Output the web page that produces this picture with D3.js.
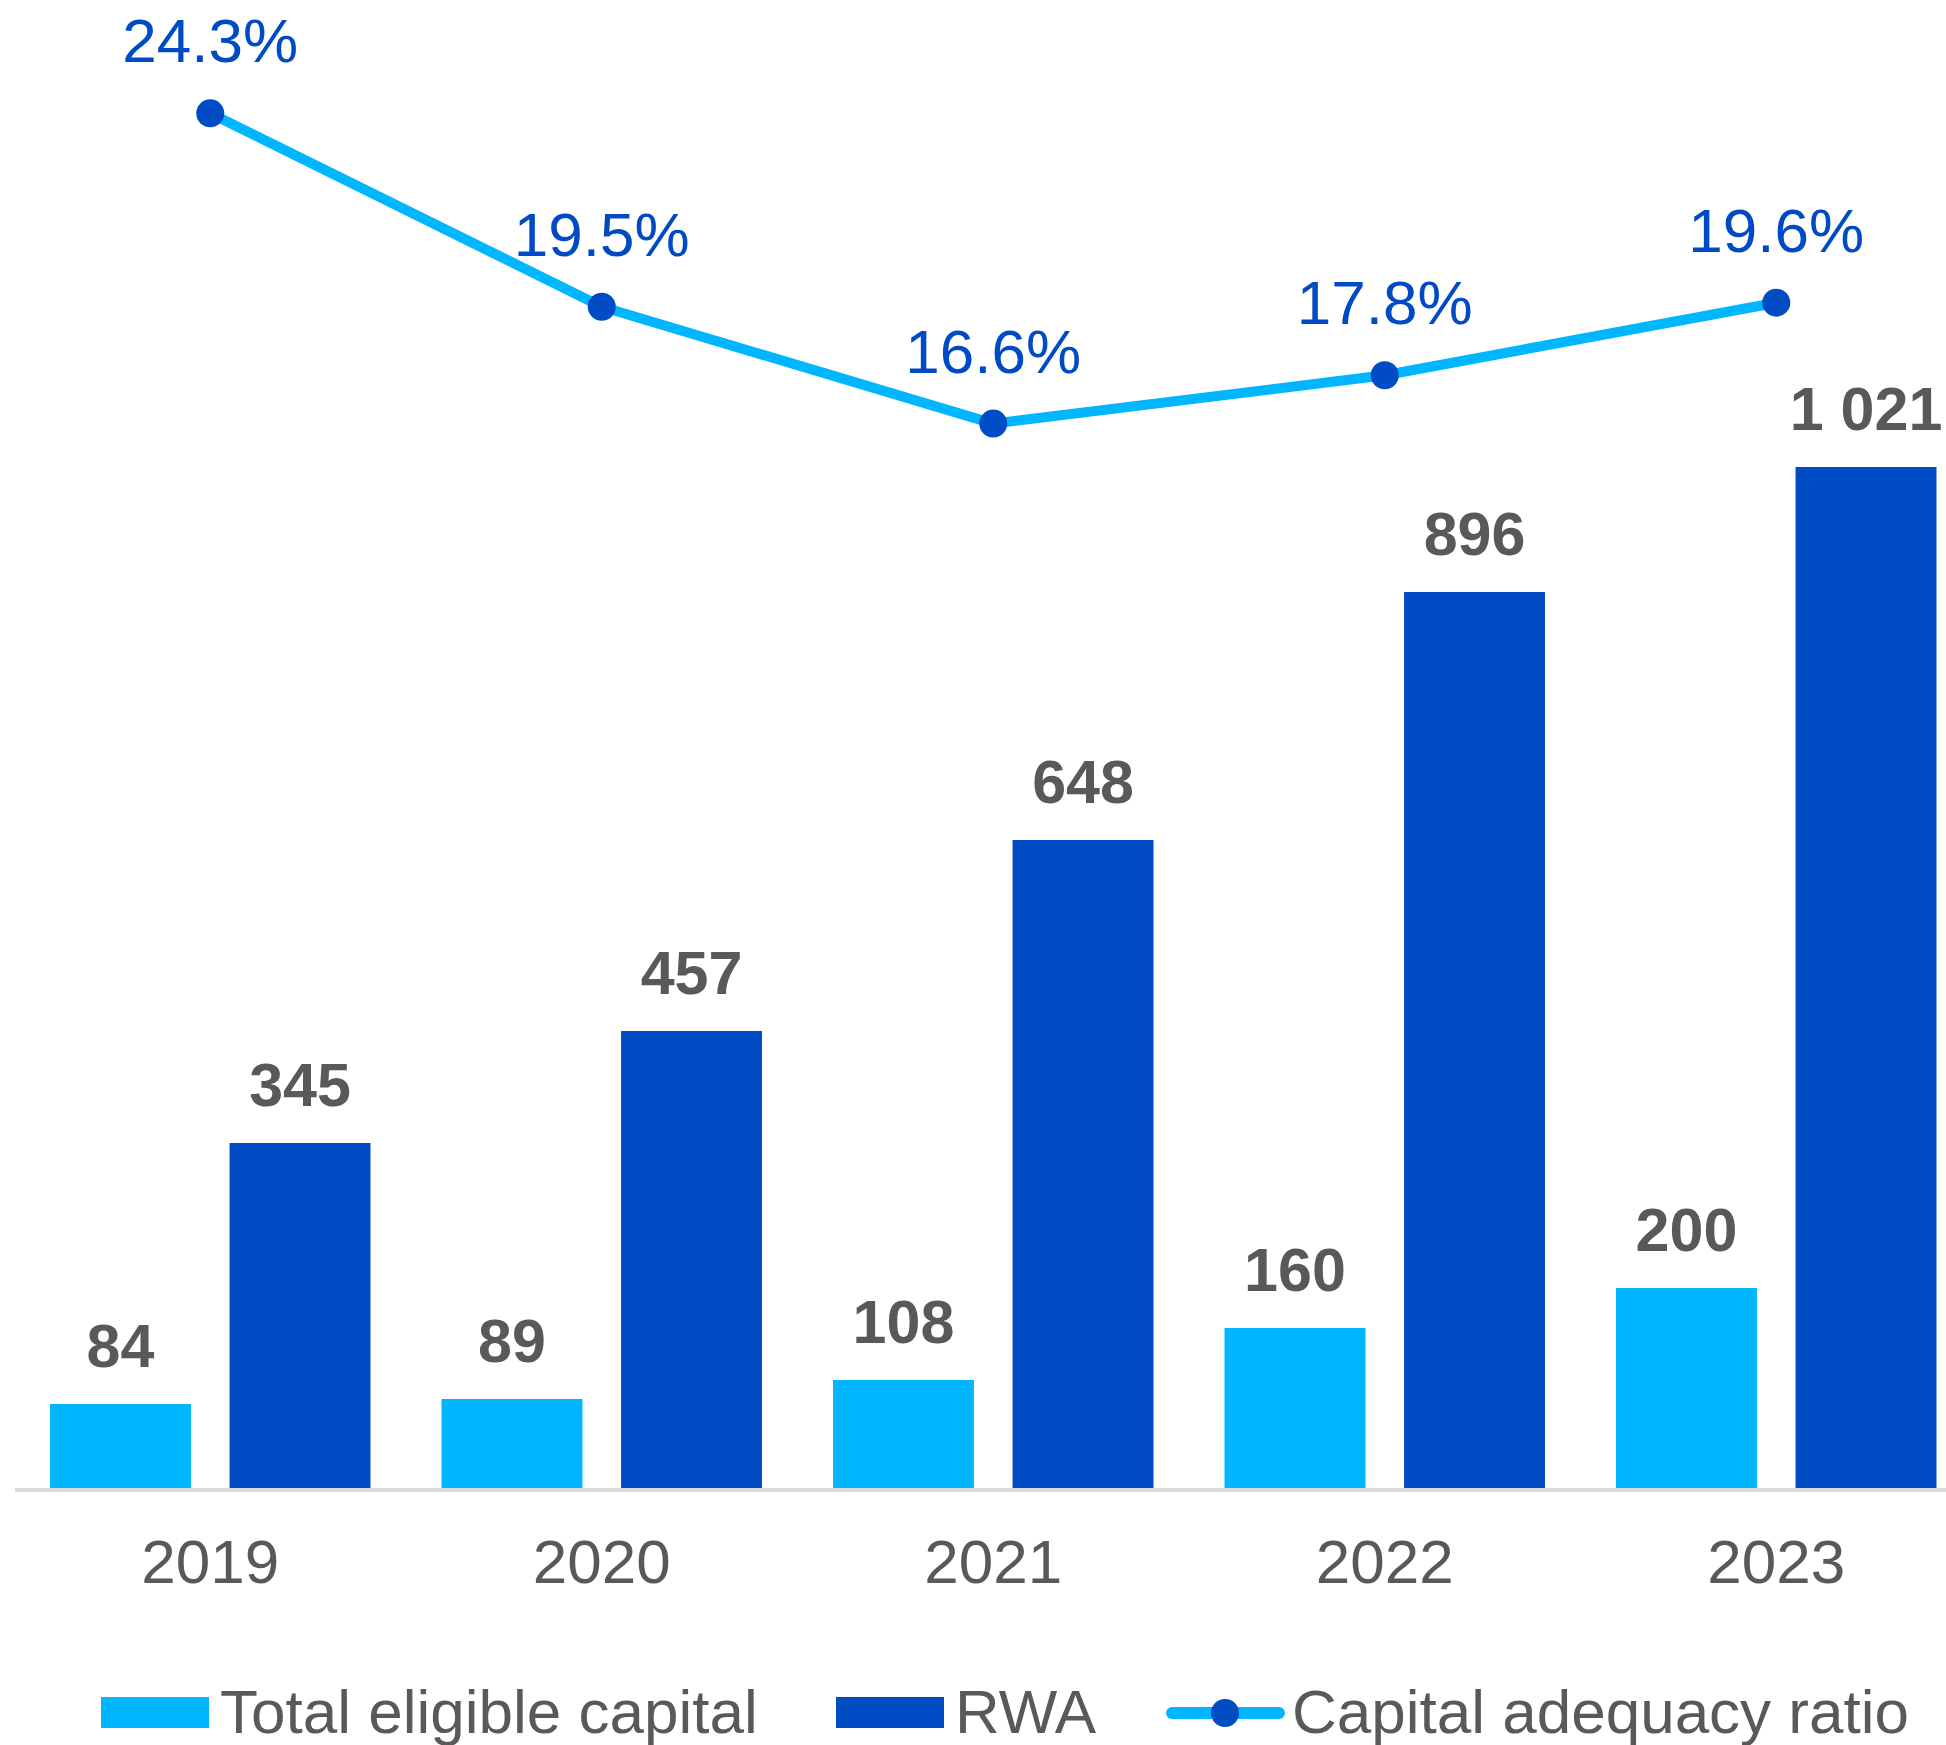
<!DOCTYPE html>
<html lang="en">
<head>
    <meta charset="UTF-8">
    <title>Capital adequacy</title>
    <style>
        body { margin: 0; background: #fff; }
        svg text { font-family: "Liberation Sans", Arial, sans-serif; }
        .val { font-weight: bold; fill: #595959; font-size: 61px; }
        .year { fill: #595959; font-size: 62px; }
        .pct { fill: #004bc5; font-size: 62px; }
        .legend text { fill: #595959; font-size: 62px; }
    </style>
</head>
<body>
    <svg id="chart" width="1946" height="1745"></svg>
    <script src="https://d3js.org/d3.v7.min.js"></script>
    <script>
        var years = ["2019", "2020", "2021", "2022", "2023"];
        var capital = [84, 89, 108, 160, 200];
        var rwa = [345, 457, 648, 896, 1021];
        var ratio = [24.3, 19.5, 16.6, 17.8, 19.6];
        var seriesNames = ["Total eligible capital", "RWA", "Capital adequacy ratio"];

        var lightBlue = "#00b7ff";
        var darkBlue = "#004cc5";
        var lineColor = "#00b6ff";

        var width = 1946, height = 1745;
        var baseline = 1488;
        var svg = d3.select("#chart");

        var x0 = d3.scaleBand().domain(years).range([14.5, 1972]).paddingInner(0).paddingOuter(0);
        var x1 = d3.scaleBand().domain(["capital", "rwa"]).range([35.5, 356]).paddingInner(0.215).paddingOuter(0);
        var y = d3.scaleLinear().domain([0, baseline]).range([baseline, 0]);
        var y2 = d3.scaleLinear().domain([0, 24.3]).range([1092.6, 113.3]);

        var fmt = d3.formatLocale({ decimal: ".", thousands: " ", grouping: [3], currency: ["", ""] }).format(",d");

        var rows = years.map((yr, i) => ({ year: yr, capital: capital[i], rwa: rwa[i], ratio: ratio[i] }));

        // bars
        var groups = svg.selectAll("g.grp")
            .data(rows)
            .enter()
            .append("g")
            .attr("class", "grp")
            .attr("transform", d => "translate(" + x0(d.year) + ",0)");

        groups.selectAll("rect")
            .data(d => [{ key: "capital", v: d.capital }, { key: "rwa", v: d.rwa }])
            .enter()
            .append("rect")
            .attr("x", d => x1(d.key))
            .attr("width", x1.bandwidth())
            .attr("y", d => y(d.v))
            .attr("height", d => baseline - y(d.v))
            .attr("fill", d => d.key === "capital" ? lightBlue : darkBlue);

        groups.selectAll("text.val")
            .data(d => [{ key: "capital", v: d.capital }, { key: "rwa", v: d.rwa }])
            .enter()
            .append("text")
            .attr("class", "val")
            .attr("x", d => x1(d.key) + x1.bandwidth() / 2)
            .attr("y", d => y(d.v) - 37)
            .attr("text-anchor", "middle")
            .text(d => fmt(d.v));

        // axis line
        svg.append("line")
            .attr("x1", 15).attr("x2", width)
            .attr("y1", baseline + 2).attr("y2", baseline + 2)
            .attr("stroke", "#d9d9d9")
            .attr("stroke-width", 4);

        // year labels
        svg.selectAll("text.year")
            .data(years)
            .enter()
            .append("text")
            .attr("class", "year")
            .attr("x", d => x0(d) + x0.bandwidth() / 2)
            .attr("y", 1583)
            .attr("text-anchor", "middle")
            .text(d => d);

        // ratio line
        var cx = d => x0(d.year) + x0.bandwidth() / 2;
        var line = d3.line().x(cx).y(d => y2(d.ratio));
        svg.append("path")
            .datum(rows)
            .attr("d", line)
            .attr("fill", "none")
            .attr("stroke", lineColor)
            .attr("stroke-width", 10)
            .attr("stroke-linejoin", "round");

        svg.selectAll("circle.dot")
            .data(rows)
            .enter()
            .append("circle")
            .attr("class", "dot")
            .attr("cx", cx)
            .attr("cy", d => y2(d.ratio))
            .attr("r", 14)
            .attr("fill", darkBlue);

        svg.selectAll("text.pct")
            .data(rows)
            .enter()
            .append("text")
            .attr("class", "pct")
            .attr("x", cx)
            .attr("y", d => y2(d.ratio) - 51)
            .attr("text-anchor", "middle")
            .text(d => d.ratio.toFixed(1) + "%");

        // Legend
        var legend = svg.append("g").attr("class", "legend");
        legend.append("rect").attr("x", 101).attr("y", 1697).attr("width", 108).attr("height", 31).attr("fill", lightBlue);
        legend.append("text").attr("x", 220).attr("y", 1733).text(seriesNames[0]);
        legend.append("rect").attr("x", 836).attr("y", 1697).attr("width", 108).attr("height", 31).attr("fill", darkBlue);
        legend.append("text").attr("x", 955).attr("y", 1733).text(seriesNames[1]);
        legend.append("line").attr("x1", 1172).attr("x2", 1279).attr("y1", 1713).attr("y2", 1713)
            .attr("stroke", lineColor).attr("stroke-width", 12).attr("stroke-linecap", "round");
        legend.append("circle").attr("cx", 1225).attr("cy", 1713).attr("r", 14).attr("fill", darkBlue);
        legend.append("text").attr("x", 1292).attr("y", 1733).text(seriesNames[2]);
    </script>
</body>
</html>
